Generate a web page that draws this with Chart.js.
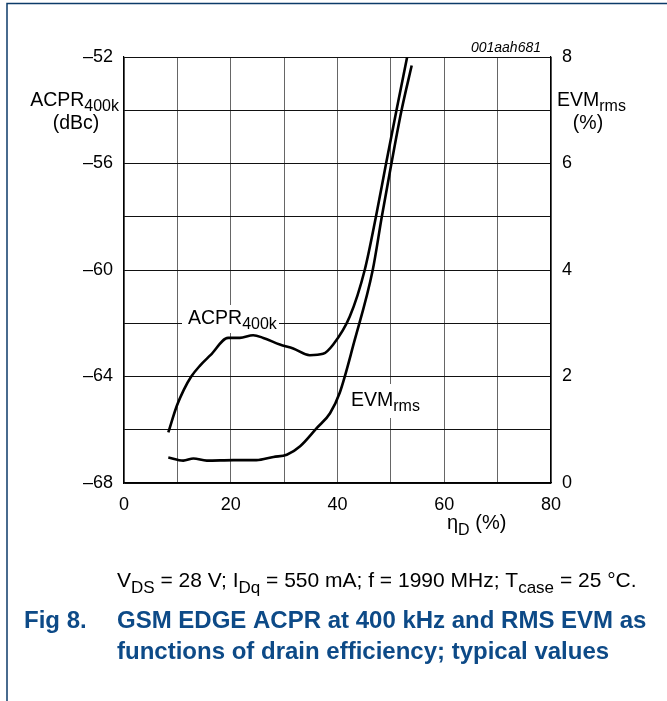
<!DOCTYPE html>
<html>
<head>
<meta charset="utf-8">
<script src="https://cdn.jsdelivr.net/npm/chart.js@4.4.1/dist/chart.umd.min.js"></script>
<style>
  html, body { margin: 0; padding: 0; background: #fff; }
  #wrap { width: 667px; height: 701px; }
</style>
</head>
<body>
<div id="wrap"><canvas id="myChart" width="667" height="701"></canvas></div>
<script>
// drain efficiency (%) vs ACPR400k (dBc), left axis
let acprEta = [8.3, 9.9, 11.2, 12.6, 14.2, 16.2, 19.5, 21.7, 24.2, 26.1, 29.2, 31.7, 34.8, 37.3, 39.2, 42.3, 45.1, 47.2, 49.1, 51.05, 53.05];
let acprVal = [-66.1, -65.1, -64.5, -64.0, -63.6, -63.2, -62.55, -62.55, -62.45, -62.55, -62.8, -62.95, -63.2, -63.15, -62.8, -61.75, -60.0, -58.0, -56.0, -54.0, -52.0];

// drain efficiency (%) vs EVMrms (%), right axis
let evmEta = [8.3, 11.1, 13.0, 15.5, 20.5, 24.8, 28.0, 30.5, 33.0, 36.1, 38.6, 40.4, 43.1, 46.6, 48.3, 50.1, 52.0, 53.9];
let evmVal = [0.48, 0.42, 0.46, 0.42, 0.43, 0.43, 0.49, 0.53, 0.69, 1.03, 1.31, 1.69, 2.64, 4.0, 5.0, 6.0, 7.0, 7.84];

let xTicks = [0, 20, 40, 60, 80];
let acprTicks = [-68, -64, -60, -56, -52];
let evmTicks = [0, 2, 4, 6, 8];

const FONT = "'Liberation Sans', Arial, sans-serif";
const BLUE = "#0d4a87";

function pts(xs, ys) {
    return xs.map(function (x, i) { return { x: x, y: ys[i] }; });
}

// draw text with subscript parts: [[text, isSub], ...]
function rich(ctx, x, y, parts, size, align) {
    let subSize = Math.round(size * 0.82);
    let w = 0;
    parts.forEach(function (p) {
        ctx.font = (p[1] ? subSize : size) + "px " + FONT;
        w += ctx.measureText(p[0]).width;
    });
    let cx = x;
    if (align === "center") cx = x - w / 2;
    if (align === "right") cx = x - w;
    ctx.textAlign = "left";
    ctx.textBaseline = "alphabetic";
    parts.forEach(function (p) {
        ctx.font = (p[1] ? subSize : size) + "px " + FONT;
        ctx.fillText(p[0], cx, p[1] ? y + size * 0.28 : y);
        cx += ctx.measureText(p[0]).width;
    });
    return w;
}

const labelsPlugin = {
    id: "labels",
    beforeDatasetsDraw: function (chart) {
        const ctx = chart.ctx;
        ctx.save();
        // white boxes behind curve labels
        ctx.fillStyle = "#fff";
        ctx.fillRect(182, 305, 97, 28);
        ctx.fillRect(346, 384, 76, 34);
        ctx.fillStyle = "#000";
        rich(ctx, 188, 324, [["ACPR", false], ["400k", true]], 19.5);
        rich(ctx, 351, 406, [["EVM", false], ["rms", true]], 19.5);
        ctx.restore();
    },
    afterDraw: function (chart) {
        const ctx = chart.ctx;
        ctx.save();
        ctx.fillStyle = "#000";
        // axis titles
        rich(ctx, 119, 106, [["ACPR", false], ["400k", true]], 19.5, "right");
        rich(ctx, 76, 129, [["(dBc)", false]], 19.5, "center");
        rich(ctx, 557, 106, [["EVM", false], ["rms", true]], 19.5);
        rich(ctx, 588, 129, [["(%)", false]], 19.5, "center");
        rich(ctx, 447, 529, [["\u03b7", false], ["D", true], [" (%)", false]], 20);

        ctx.font = "italic 14px " + FONT;
        ctx.textAlign = "right";
        ctx.fillText("001aah681", 541, 52);

        // conditions line
        rich(ctx, 117, 587, [["V", false], ["DS", true], [" = 28 V; I", false], ["Dq", true],
            [" = 550 mA; f = 1990 MHz; T", false], ["case", true], [" = 25 \u00b0C.", false]], 21);

        // figure caption
        ctx.fillStyle = BLUE;
        ctx.font = "bold 24px " + FONT;
        ctx.textAlign = "left";
        ctx.fillText("Fig 8.", 24, 628);
        ctx.fillText("GSM EDGE ACPR at 400 kHz and RMS EVM as", 117, 628);
        ctx.fillText("functions of drain efficiency; typical values", 117, 659);

        // page frame
        ctx.strokeStyle = "#0c3b69";
        ctx.lineWidth = 1.5;
        ctx.beginPath();
        ctx.moveTo(7, 701);
        ctx.lineTo(7, 3.5);
        ctx.lineTo(667, 3.5);
        ctx.stroke();
        ctx.restore();
    }
};

const data = {
    datasets: [{
        label: "ACPR",
        data: pts(acprEta, acprVal),
        yAxisID: "y",
        borderColor: "#000",
        borderWidth: 2.6,
        pointRadius: 0,
        cubicInterpolationMode: "monotone"
    }, {
        label: "EVM",
        data: pts(evmEta, evmVal),
        yAxisID: "y2",
        borderColor: "#000",
        borderWidth: 2.6,
        pointRadius: 0,
        cubicInterpolationMode: "monotone"
    }]
};

const config = {
    type: "line",
    data: data,
    options: {
        responsive: false,
        animation: false,
        layout: { padding: { top: 57, left: 0, right: 0, bottom: 0 } },
        plugins: { legend: { display: false }, tooltip: { enabled: false } },
        scales: {
            x: {
                type: "linear",
                min: 0, max: 80,
                afterFit: function (s) { s.height = 701 - 57 - 426; },
                afterBuildTicks: function (s) {
                    s.ticks = [0, 10, 20, 30, 40, 50, 60, 70, 80].map(function (v) { return { value: v }; });
                },
                ticks: {
                    color: "#000",
                    font: { family: FONT, size: 18 },
                    padding: 11,
                    maxRotation: 0,
                    autoSkip: false,
                    callback: function (v) { return xTicks.indexOf(v) >= 0 ? String(v) : ""; }
                },
                grid: { color: "#666", lineWidth: 1, drawTicks: false },
                border: { color: "#000", width: 1.2 }
            },
            y: {
                position: "left",
                min: -68, max: -52,
                afterFit: function (s) { s.width = 124; },
                afterBuildTicks: function (s) {
                    let t = [];
                    for (let v = -68; v <= -52; v += 2) t.push({ value: v });
                    s.ticks = t;
                },
                ticks: {
                    color: "#000",
                    font: { family: FONT, size: 18 },
                    padding: 11,
                    autoSkip: false,
                    callback: function (v) {
                        return acprTicks.indexOf(v) >= 0 ? "\u2013" + Math.abs(v) : "";
                    }
                },
                grid: { color: "#111", lineWidth: 1, drawTicks: false },
                border: { color: "#000", width: 1.2 }
            },
            y2: {
                position: "right",
                min: 0, max: 8,
                afterFit: function (s) { s.width = 667 - 551; },
                afterBuildTicks: function (s) {
                    let t = [];
                    for (let v = 0; v <= 8; v += 1) t.push({ value: v });
                    s.ticks = t;
                },
                ticks: {
                    color: "#000",
                    font: { family: FONT, size: 18 },
                    padding: 11,
                    autoSkip: false,
                    callback: function (v) { return evmTicks.indexOf(v) >= 0 ? String(v) : ""; }
                },
                grid: { display: false, drawTicks: false },
                border: { color: "#000", width: 1.2 }
            }
        }
    },
    plugins: [labelsPlugin]
};

const chart = new Chart(document.getElementById("myChart"), config);
</script>
</body>
</html>
